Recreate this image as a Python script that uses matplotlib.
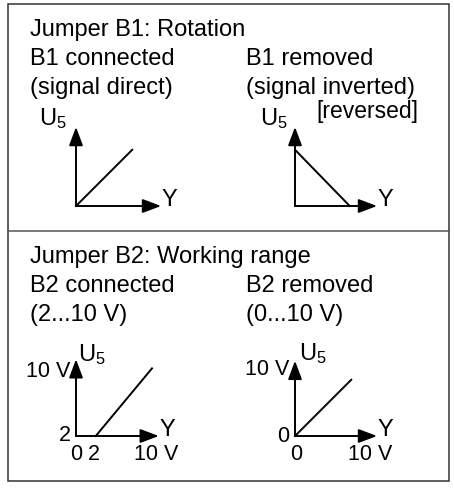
import matplotlib
matplotlib.use('Agg')
import matplotlib.pyplot as plt
from matplotlib.patches import Rectangle

plt.rcParams['font.family'] = ['Liberation Sans', 'DejaVu Sans']
plt.rcParams['mathtext.fontset'] = 'custom'
plt.rcParams['mathtext.rm'] = 'Liberation Sans'

# transfer curves (schematic units, origin = 0)
b1_con_y = [0, 7.4]
b1_con_u = [0, 7.4]
b1_rem_y = [0, 7.2]
b1_rem_u = [7.4, 0]
b2_con_y = [2.6, 10.0]
b2_con_u = [0, 8.9]
b2_rem_y = [0, 7.4]
b2_rem_u = [0, 7.4]

# tick labels of the lower diagrams
b2_con_xticks = ['0', '2', '10 V']
b2_con_xpos = [0, 2.3, 10.5]
b2_con_yticks = ['2', '10 V']
b2_con_ypos = [0.2, 8.6]
b2_rem_xticks = ['0', '10 V']
b2_rem_xpos = [0.2, 9.9]
b2_rem_yticks = ['0', '10 V']
b2_rem_ypos = [0.1, 8.9]

W, H = 454, 489
S = 7.6  # px per unit
fig = plt.figure(figsize=(W / 100, H / 100), dpi=100)
bg = fig.add_axes([0, 0, 1, 1])
bg.set_xlim(0, W)
bg.set_ylim(H, 0)
bg.axis('off')

bg.add_patch(Rectangle((8, 5), 441, 477, fill=False, lw=1.1, ec='#333333'))
bg.plot([8, 449], [232, 232], color='#555555', lw=1.1)

fs = 17
bg.text(30, 36, 'Jumper B1: Rotation', fontsize=fs)
bg.text(30, 65, 'B1 connected', fontsize=fs)
bg.text(30, 94, '(signal direct)', fontsize=fs)
bg.text(246, 65, 'B1 removed', fontsize=fs)
bg.text(246, 94, '(signal inverted)', fontsize=fs)
bg.text(418, 118, '[reversed]', fontsize=16.5, ha='right')
bg.text(30, 263, 'Jumper B2: Working range', fontsize=fs)
bg.text(30, 292, 'B2 connected', fontsize=fs)
bg.text(30, 321, '(2...10 V)', fontsize=fs)
bg.text(246, 292, 'B2 removed', fontsize=fs)
bg.text(246, 321, '(0...10 V)', fontsize=fs)

tfs = 15.5


def diagram(ox, oy, ys, us, xtip, ytip):
    pad = 4
    ax = fig.add_axes([(ox - pad * S) / W, (H - oy - pad * S) / H, 17 * S / W, 17 * S / H])
    ax.set_xlim(-pad, 13)
    ax.set_ylim(-pad, 13)
    ax.axis('off')
    aprops = dict(arrowstyle='-|>,head_length=0.8,head_width=0.3', color='black',
                  lw=1.4, shrinkA=0, shrinkB=0, mutation_scale=14)
    ax.annotate('', xy=(xtip, 0), xytext=(0, 0), arrowprops=aprops)
    ax.annotate('', xy=(0, ytip), xytext=(0, 0), arrowprops=aprops)
    ax.plot(ys, us, color='black', lw=1.4, clip_on=False)
    ax.text(xtip + 0.1, 0.9, 'Y', fontsize=fs, va='center', ha='left')
    return ax


a1 = diagram(76, 207, b1_con_y, b1_con_u, 11.2, 10.4)
a1.text(-1.2, 11.6, r'$\mathregular{U_5}$', fontsize=fs, ha='right', va='center')
a2 = diagram(295, 207, b1_rem_y, b1_rem_u, 10.8, 10.4)
a2.text(-1.0, 11.6, r'$\mathregular{U_5}$', fontsize=fs, ha='right', va='center')

a3 = diagram(76, 437, b2_con_y, b2_con_u, 10.9, 10.1)
a3.text(0.25, 10.8, r'$\mathregular{U_5}$', fontsize=fs, ha='left', va='center')
for t, p in zip(b2_con_xticks, b2_con_xpos):
    a3.text(p, -0.9, t, fontsize=tfs, ha='center', va='top')
for t, p in zip(b2_con_yticks, b2_con_ypos):
    a3.text(-0.7, p, t, fontsize=tfs, ha='right', va='center')

a4 = diagram(295, 437, b2_rem_y, b2_rem_u, 10.8, 9.9)
a4.text(0.5, 11.0, r'$\mathregular{U_5}$', fontsize=fs, ha='left', va='center')
for t, p in zip(b2_rem_xticks, b2_rem_xpos):
    a4.text(p, -0.9, t, fontsize=tfs, ha='center', va='top')
for t, p in zip(b2_rem_yticks, b2_rem_ypos):
    a4.text(-0.7, p, t, fontsize=tfs, ha='right', va='center')

fig.savefig('out.png', dpi=100)
